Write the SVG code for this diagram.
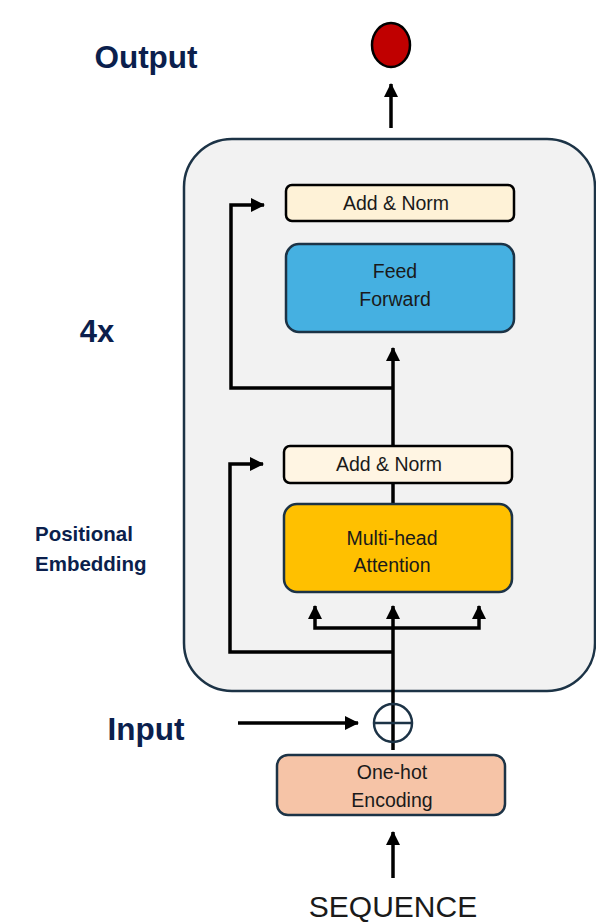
<svg xmlns="http://www.w3.org/2000/svg" width="596" height="922" viewBox="0 0 596 922">
<defs>
<marker id="ah" markerUnits="userSpaceOnUse" markerWidth="14" markerHeight="14" refX="13" refY="7" orient="auto">
<path d="M0,0 L14,7 L0,14 z" fill="#000"/>
</marker>
<style>
.lbl{font-family:"Liberation Sans",Arial,sans-serif;font-weight:bold;fill:#0b1f4d}
.nt{font-family:"Liberation Sans",Arial,sans-serif;font-size:19.5px;fill:#1a1a1a;text-anchor:middle}
.box{stroke:#1c3346;stroke-width:2.5}
.conn{fill:none;stroke:#000;stroke-width:3.5}
</style>
</defs>
<rect width="596" height="922" fill="#fff"/>
<g id="container">
<rect x="184" y="139" width="411" height="552" rx="48" fill="#f2f2f2" stroke="#1c3346" stroke-width="2.5"/>
</g>
<g id="labels">
<text class="lbl" x="146" y="68" font-size="31.5" text-anchor="middle">Output</text>
<text class="lbl" x="97" y="342" font-size="31" text-anchor="middle">4x</text>
<text class="lbl" x="35" y="541" font-size="20.5">Positional</text>
<text class="lbl" x="35" y="571" font-size="20.5">Embedding</text>
<text class="lbl" x="146" y="740" font-size="31.5" text-anchor="middle">Input</text>
</g>
<g id="connectors">
<path class="conn" d="M391,128 V84" marker-end="url(#ah)"/>
<path class="conn" d="M393,445 V348" marker-end="url(#ah)"/>
<path class="conn" d="M393,388 H231 V205 H264" marker-end="url(#ah)"/>
<path class="conn" d="M393,504 V483"/>
<path class="conn" d="M393,750 V606" marker-end="url(#ah)"/>
<path class="conn" d="M393,628 H315 V606" marker-end="url(#ah)"/>
<path class="conn" d="M393,628 H479 V606" marker-end="url(#ah)"/>
<path class="conn" d="M393,652 H230 V464 H263" marker-end="url(#ah)"/>
<path class="conn" d="M238,723 H358" marker-end="url(#ah)"/>
<path class="conn" d="M393,878 V832" marker-end="url(#ah)"/>
</g>
<g id="output">
<ellipse cx="391" cy="45" rx="19" ry="22" fill="#c00000" stroke="#000" stroke-width="2.5"/>
</g>
<g id="addnorm2">
<rect x="286" y="185" width="228" height="36" rx="6" fill="#fef2d7" stroke="#000" stroke-width="2.5"/>
<text class="nt" x="396" y="210">Add &amp; Norm</text>
</g>
<g id="feedforward">
<rect class="box" x="286" y="244" width="228" height="88" rx="13" fill="#45b0e1"/>
<text class="nt" x="395" y="278">Feed</text>
<text class="nt" x="395" y="306">Forward</text>
</g>
<g id="addnorm1">
<rect x="284" y="446" width="228" height="37" rx="6" fill="#fff5e3" stroke="#000" stroke-width="2.5"/>
<text class="nt" x="389" y="471">Add &amp; Norm</text>
</g>
<g id="attention">
<rect class="box" x="284" y="504" width="228" height="88" rx="13" fill="#ffc000"/>
<text class="nt" x="392" y="545">Multi-head</text>
<text class="nt" x="392" y="572">Attention</text>
</g>
<g id="plus">
<circle cx="393" cy="723" r="19" fill="none" stroke="#1c3346" stroke-width="2.5"/>
<line x1="374" y1="723" x2="412" y2="723" stroke="#1c3346" stroke-width="2.5"/>
</g>
<g id="onehot">
<rect class="box" x="277" y="755" width="228" height="60" rx="11" fill="#f6c4a7"/>
<text class="nt" x="392" y="779">One-hot</text>
<text class="nt" x="392" y="807">Encoding</text>
</g>
<g id="sequence">
<text x="393" y="917" font-family="'Liberation Sans',Arial,sans-serif" font-size="30" fill="#1a1a1a" text-anchor="middle">SEQUENCE</text>
</g>
</svg>
